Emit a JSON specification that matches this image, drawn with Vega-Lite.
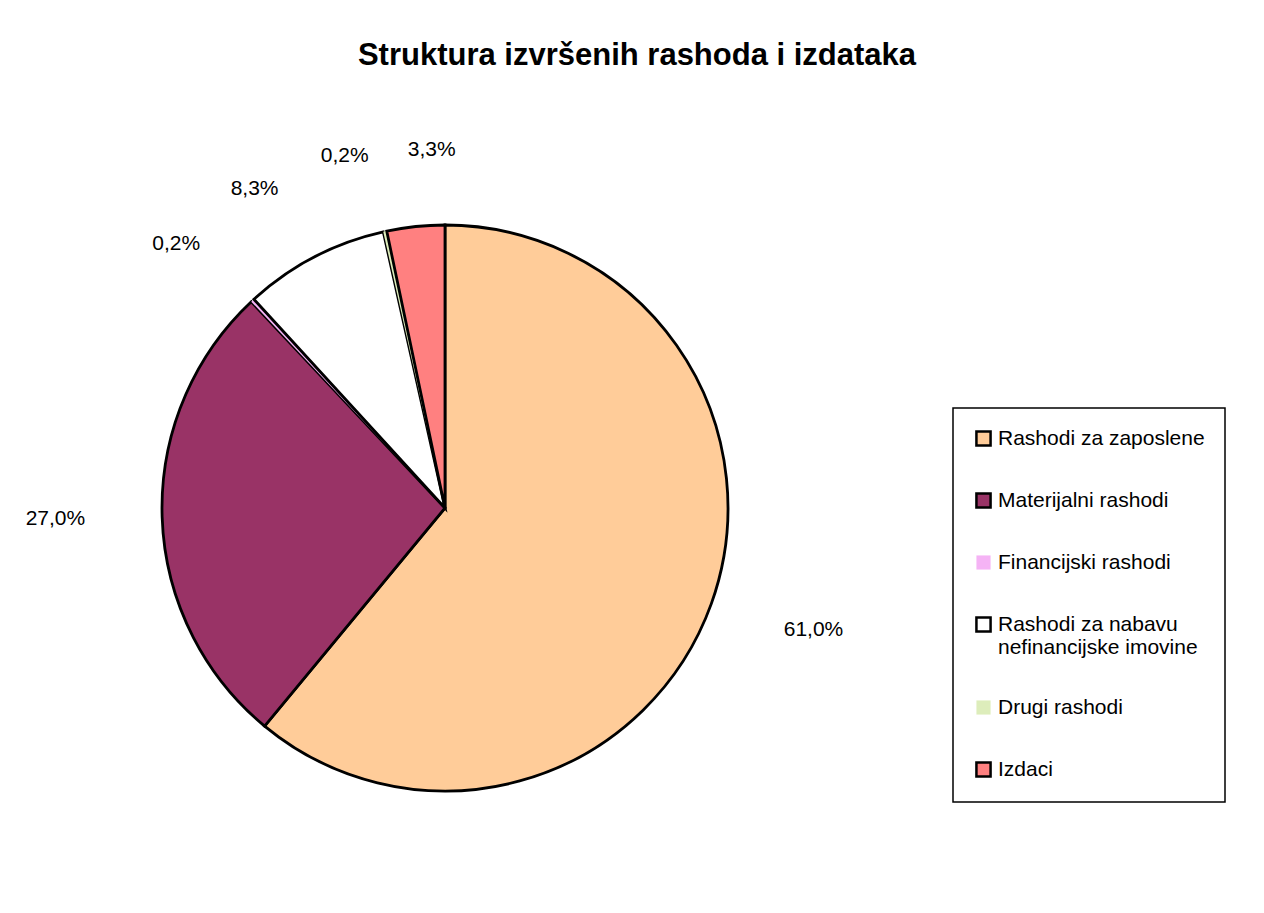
{
  "$schema": "https://vega.github.io/schema/vega-lite/v6.json",
  "width": 876,
  "height": 810,
  "autosize": {"type": "none"},
  "padding": {"left": 7, "top": 103, "right": 381, "bottom": 0},
  "background": "white",
  "config": {
    "font": "Liberation Sans",
    "view": {"stroke": null},
    "locale": {"number": {"decimal": ",", "thousands": ".", "grouping": [3], "currency": ["", ""]}}
  },
  "title": {
    "text": "Struktura izvršenih rashoda i izdataka",
    "fontSize": 31,
    "fontWeight": "bold",
    "font": "Liberation Sans",
    "color": "black",
    "anchor": "middle",
    "offset": 31,
    "dx": 192
  },
  "data": {
    "values": [
      {"rb": 1, "kategorija": "Rashodi za zaposlene", "udio": 0.610},
      {"rb": 2, "kategorija": "Materijalni rashodi", "udio": 0.270},
      {"rb": 3, "kategorija": "Financijski rashodi", "udio": 0.002},
      {"rb": 4, "kategorija": "Rashodi za nabavu nefinancijske imovine", "udio": 0.083},
      {"rb": 5, "kategorija": "Drugi rashodi", "udio": 0.002},
      {"rb": 6, "kategorija": "Izdaci", "udio": 0.033}
    ]
  },
  "encoding": {
    "theta": {"field": "udio", "type": "quantitative", "stack": true},
    "order": {"field": "rb", "type": "quantitative"}
  },
  "layer": [
    {
      "mark": {"type": "arc", "outerRadius": 283, "stroke": "black", "strokeJoin": "miter"},
      "encoding": {
        "color": {
          "field": "kategorija",
          "type": "nominal",
          "sort": ["Rashodi za zaposlene", "Materijalni rashodi", "Financijski rashodi", "Rashodi za nabavu nefinancijske imovine", "Drugi rashodi", "Izdaci"],
          "scale": {
            "domain": ["Rashodi za zaposlene", "Materijalni rashodi", "Financijski rashodi", "Rashodi za nabavu nefinancijske imovine", "Drugi rashodi", "Izdaci"],
            "range": ["#FFCC99", "#993366", "#F5B3F5", "#FFFFFF", "#DDEDBB", "#FF8080"]
          },
          "legend": {
            "orient": "none",
            "legendX": 946,
            "legendY": 305,
            "title": null,
            "symbolType": "square",
            "symbolSize": 200,
            "symbolStrokeWidth": 2.5,
            "symbolStrokeColor": "black",
            "symbolOpacity": 1,
            "labelFontSize": 21,
            "labelFont": "Liberation Sans",
            "labelColor": "black",
            "labelLimit": 400,
            "labelOffset": 4,
            "rowPadding": 37,
            "padding": 20,
            "strokeColor": "black",
            "fillColor": "white",
            "labelExpr": "datum.label == 'Rashodi za nabavu nefinancijske imovine' ? ['Rashodi za nabavu', 'nefinancijske imovine'] : datum.label",
            "encode": {
              "legend": {"update": {"strokeWidth": {"value": 1.5}}},
              "symbols": {"update": {"stroke": [{"test": "datum.value === 'Financijski rashodi' || datum.value === 'Drugi rashodi'", "value": "transparent"}, {"value": "black"}]}}
            }
          }
        },
        "strokeWidth": {"condition": {"test": "datum.udio < 0.01", "value": 0}, "value": 2.8}
      }
    },
    {
      "mark": {
        "type": "text",
        "radius": 360,
        "fontSize": 21,
        "color": "black",
        "baseline": "middle",
        "align": {"expr": "datum.rb == 1 || datum.rb == 6 ? 'left' : 'right'"}
      },
      "encoding": {
        "text": {"field": "udio", "type": "quantitative", "format": ".1%"}
      }
    }
  ]
}
